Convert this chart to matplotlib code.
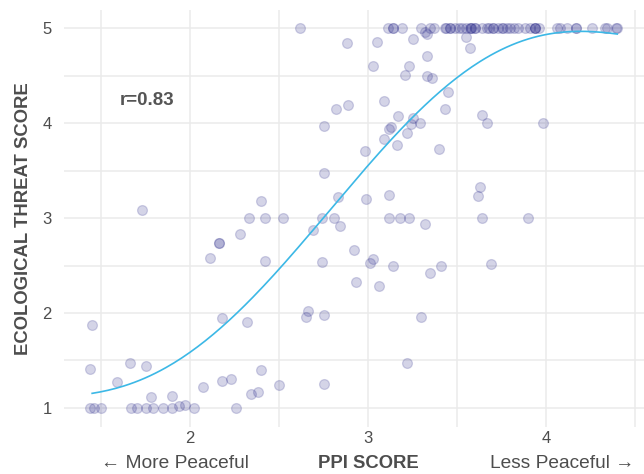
import numpy as np
import matplotlib
matplotlib.use("Agg")
import matplotlib.pyplot as plt
from matplotlib.ticker import MultipleLocator

plt.rcParams['font.family'] = ['Liberation Sans', 'DejaVu Sans']

# PPI score (x) and ecological threat score (y) for each country
ppi = [
    # bottom row
    1.44, 1.46, 1.50, 1.67, 1.70, 1.75, 1.79, 1.85, 1.90, 2.02, 2.26, 1.94, 1.97,
    # low
    1.59, 1.78, 1.90, 2.07, 2.18, 2.23, 2.34, 2.38, 2.40, 1.44, 1.66, 1.75, 1.45,
    2.18, 2.32, 2.50, 2.75, 3.22,
    # mid-low
    2.66, 2.65, 2.75, 3.30, 2.42, 2.74, 3.03, 3.01, 2.93, 3.06, 3.14, 3.35, 3.41,
    3.69, 2.11, 2.16, 2.16, 2.28, 2.92,
    # mid
    1.73, 2.40, 2.33, 2.42, 2.52, 2.74, 2.81, 2.84, 2.69, 2.83, 2.99, 3.12, 3.12,
    3.18, 3.23, 3.32, 3.64, 3.90, 3.63, 3.62, 2.75,
    # upper-mid
    2.98, 3.09, 3.16, 3.22, 3.40, 2.75, 3.13, 3.12, 3.17, 3.25, 3.24, 3.29, 2.82,
    2.89, 3.09, 3.43, 3.64, 3.67, 3.98, 3.45,
    # high
    3.21, 3.33, 3.36, 3.03, 3.23, 3.33, 3.57, 3.55, 3.25, 2.88, 3.05, 3.32, 3.33,
    # top row
    2.62, 3.11, 3.14, 3.14, 3.19, 3.30, 3.35, 3.37, 3.43, 3.44, 3.46, 3.46, 3.49,
    3.51, 3.53, 3.55, 3.57, 3.58, 3.58, 3.60, 3.60, 3.64, 3.67, 3.68, 3.70, 3.70,
    3.73, 3.75, 3.76, 3.78, 3.80, 3.82, 3.84, 3.88, 3.91, 3.94, 3.94, 3.94, 3.96,
    4.06, 4.08, 4.12, 4.17, 4.17, 4.26, 4.33, 4.34, 4.39, 4.40,
]
threat = [
    1.00, 1.00, 1.00, 1.00, 1.00, 1.00, 1.00, 1.00, 1.00, 1.00, 1.00, 1.02, 1.03,
    1.27, 1.12, 1.13, 1.22, 1.28, 1.30, 1.15, 1.17, 1.40, 1.41, 1.47, 1.44, 1.87,
    1.95, 1.90, 1.24, 1.25, 1.47,
    2.02, 1.96, 1.98, 1.96, 2.55, 2.54, 2.57, 2.53, 2.33, 2.28, 2.50, 2.42, 2.50,
    2.52, 2.58, 2.74, 2.74, 2.83, 2.66,
    3.08, 3.18, 3.00, 3.00, 3.00, 3.00, 3.00, 2.92, 2.87, 3.22, 3.20, 3.24, 3.00,
    3.00, 3.00, 2.94, 3.00, 3.00, 3.33, 3.23, 3.47,
    3.71, 3.83, 3.77, 3.90, 3.73, 3.97, 3.96, 3.94, 4.07, 4.05, 3.99, 4.00, 4.15,
    4.19, 4.23, 4.15, 4.08, 4.00, 4.00, 4.33,
    4.51, 4.50, 4.47, 4.60, 4.60, 4.71, 4.79, 4.91, 4.88, 4.84, 4.85, 4.96, 4.94,
    5.00, 5.00, 5.00, 5.00, 5.00, 5.00, 5.00, 5.00, 5.00, 5.00, 5.00, 5.00, 5.00,
    5.00, 5.00, 5.00, 5.00, 5.00, 5.00, 5.00, 5.00, 5.00, 5.00, 5.00, 5.00, 5.00,
    5.00, 5.00, 5.00, 5.00, 5.00, 5.00, 5.00, 5.00, 5.00, 5.00, 5.00, 5.00, 5.00,
    5.00, 5.00, 5.00, 5.00, 5.00, 5.00, 5.00, 5.00, 5.00, 5.00,
]
# trend curve (a smooth polynomial fit is drawn through these)
curve_x = [1.45, 2.00, 2.50, 2.84, 3.00, 3.22, 3.50, 4.00, 4.19, 4.40]
curve_y = [1.155, 1.58, 2.48, 3.20, 3.53, 4.01, 4.49, 4.93, 4.96, 4.94]

x_ticks = [2, 3, 4]
y_ticks = [1, 2, 3, 4, 5]
r_label = "r=0.83"

x = np.array(ppi)
y = np.array(threat)

fig = plt.figure(figsize=(6.44, 4.74), dpi=100)
ax = fig.add_axes([0.0994, 0.0992, 0.9006, 0.8797])

ax.set_xlim(1.292, 4.55)
ax.set_ylim(0.80, 5.19)

ax.xaxis.set_minor_locator(MultipleLocator(0.5))
ax.yaxis.set_minor_locator(MultipleLocator(0.5))
ax.set_xticks(x_ticks)
ax.set_yticks(y_ticks)
ax.grid(True, which='major', color='#ebebeb', linewidth=1.1, zorder=0)
ax.grid(True, which='minor', color='#ebebeb', linewidth=1.1, zorder=0)
for s in ax.spines.values():
    s.set_visible(False)
ax.tick_params(which='both', length=0)
ax.tick_params(axis='x', pad=3, labelsize=12, labelcolor='#4d4d4d')
ax.tick_params(axis='y', pad=9, labelsize=12, labelcolor='#4d4d4d')

ax.scatter(x, y, s=50, color='#28288a', alpha=0.2, edgecolors='#28288a',
           linewidths=0.9, zorder=2)

coef = np.polyfit(curve_x, curve_y, 5)
xs = np.linspace(min(curve_x), max(curve_x), 200)
ax.plot(xs, np.polyval(coef, xs), color='#3cb8e6', linewidth=1.2, zorder=3)

ax.text(1.76, 4.24, r_label, fontsize=13.5, fontweight='bold', color='#555555',
        ha='center', va='center')

ax.set_ylabel('ECOLOGICAL THREAT SCORE', fontsize=13.3, fontweight='bold',
              color='#4d4d4d', labelpad=7)

fig.text(368 / 644, 1 - 463 / 474, 'PPI SCORE', fontsize=13.3, fontweight='bold',
         color='#4d4d4d', ha='center', va='center')
fig.text(175 / 644, 1 - 463 / 474, '\u2190 More Peaceful', fontsize=13.8,
         color='#4d4d4d', ha='center', va='center')
fig.text(562 / 644, 1 - 463 / 474, 'Less Peaceful \u2192', fontsize=13.8,
         color='#4d4d4d', ha='center', va='center')

fig.savefig('out.png', dpi=100)
